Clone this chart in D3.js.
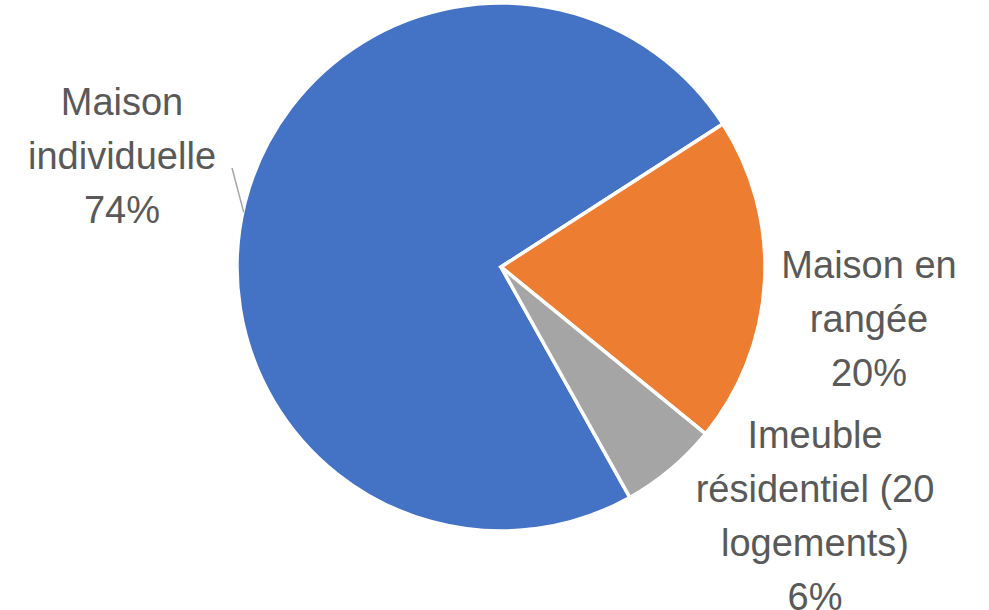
<!DOCTYPE html>
<html>
<head>
<meta charset="utf-8">
<script src="https://cdn.jsdelivr.net/npm/d3@7"></script>
<style>
  html, body { margin: 0; padding: 0; background: #fff; }
  svg { display: block; }
</style>
</head>
<body>
<div id="chart"></div>
<script>
/**
 * DATA
 * */
const categories = ["Maison individuelle", "Maison en rangée", "Imeuble résidentiel (20 logements)"];
const shares = [74, 20, 6];
// wrapped label lines, as shown on the chart
const labelLines = [
  ["Maison", "individuelle", "74%"],
  ["Maison en", "rangée", "20%"],
  ["Imeuble", "résidentiel (20", "logements)", "6%"]
];
const colors = ["#4472C4", "#ED7D31", "#A5A5A5"];

/**
 * LAYOUT
 * */
const width = 989, height = 610;
const cx = 501, cy = 267, radius = 264;
const firstSliceAngle = 150.8 * Math.PI / 180;
const lineHeight = 54;
// label block centres (first baseline) relative to pie centre
const labelPos = [
  { x: 122 - cx, y: 115 - cy },
  { x: 869 - cx, y: 278 - cy },
  { x: 815 - cx, y: 448 - cy }
];

const svg = d3.select("#chart")
  .append("svg")
  .attr("width", width)
  .attr("height", height);

const g = svg.append("g")
  .attr("transform", `translate(${cx}, ${cy})`);

const pie = d3.pie()
  .value(d => d)
  .sort(null)
  .startAngle(firstSliceAngle)
  .endAngle(firstSliceAngle + 2 * Math.PI);

const arc = d3.arc()
  .innerRadius(0)
  .outerRadius(radius);

const arcs = pie(shares);

g.selectAll(".slice")
  .data(arcs)
  .join("path")
  .attr("class", "slice")
  .attr("d", arc)
  .attr("fill", (d, i) => colors[i])
  .attr("stroke", "#fff")
  .attr("stroke-width", 3.5)
  .attr("stroke-linejoin", "miter");

// leader line for the first label
const leaderAngle = 282 * Math.PI / 180;
g.append("line")
  .attr("x1", 232 - cx)
  .attr("y1", 168 - cy)
  .attr("x2", (radius - 1) * Math.sin(leaderAngle))
  .attr("y2", -(radius - 1) * Math.cos(leaderAngle))
  .attr("stroke", "#A6A6A6")
  .attr("stroke-width", 1.5);

// labels
const labels = g.selectAll(".label")
  .data(arcs)
  .join("text")
  .attr("class", "label")
  .attr("text-anchor", "middle")
  .attr("fill", "#595959")
  .style("font-family", "'Liberation Sans', Arial, sans-serif")
  .style("font-size", "38px")
  .attr("transform", (d, i) => `translate(${labelPos[i].x}, ${labelPos[i].y})`);

labels.selectAll("tspan")
  .data((d, i) => labelLines[i])
  .join("tspan")
  .attr("x", 0)
  .attr("y", (d, j) => j * lineHeight)
  .text(d => d);
</script>
</body>
</html>
